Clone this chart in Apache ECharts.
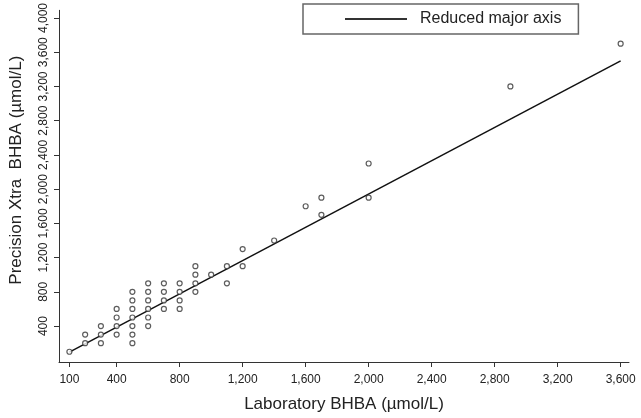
<!doctype html>
<html>
<head>
<meta charset="UTF-8">
<title>BHBA</title>
<script src="https://cdn.jsdelivr.net/npm/echarts@6/dist/echarts.min.js"></script>
<style>body{margin:0;background:#fff}</style>
</head>
<body>
<div id="main" style="width:641px;height:418px;"></div>
<script>
    // laboratory vs meter readings (umol/L)
    var labVals = [100, 200, 200, 300, 300, 300,
        400, 400, 400, 400,
        500, 500, 500, 500, 500, 500, 500,
        600, 600, 600, 600, 600, 600,
        700, 700, 700, 700,
        800, 800, 800, 800,
        900, 900, 900, 900,
        1000, 1100, 1100, 1200, 1200,
        1400, 1600, 1700, 1700, 2000, 2000, 2900, 3600];
    var meterVals = [100, 300, 200, 400, 300, 200,
        600, 500, 400, 300,
        800, 700, 600, 500, 400, 300, 200,
        900, 800, 700, 600, 500, 400,
        900, 800, 700, 600,
        900, 800, 700, 600,
        1100, 1000, 900, 800,
        1000, 1100, 900, 1300, 1100,
        1400, 1800, 1900, 1700, 2300, 1900, 3200, 3700];
    var rmaX = [100, 3600];
    var rmaY = [95, 3500];
    var xTicks = [100, 400, 800, 1200, 1600, 2000, 2400, 2800, 3200, 3600];
    var yTicks = [400, 800, 1200, 1600, 2000, 2400, 2800, 3200, 3600, 4000];

    var pts = labVals.map((x, i) => [x, meterVals[i]]);
    var linePts = rmaX.map((x, i) => [x, rmaY[i]]);
    var fmt = v => v.toLocaleString('en-US');
    var ink = '#222';
    var font = 'Liberation Sans, Arial, sans-serif';

    var myChart = echarts.init(document.getElementById('main'));
    myChart.setOption({
        animation: false,
        textStyle: {fontFamily: font},
        grid: {left: 56, right: 12, top: 10, bottom: 56},
        legend: {
            data: ['Reduced major axis'],
            left: 303, top: 4,
            padding: [7, 17, 7, 42],
            borderColor: '#666', borderWidth: 1.5,
            icon: 'rect', itemWidth: 62, itemHeight: 2,
            itemGap: 0,
            textStyle: {fontSize: 16, color: ink, padding: [0, 0, 0, 8]}
        },
        xAxis: {
            type: 'value', min: 34, max: 3653,
            splitLine: {show: false},
            axisLine: {onZero: false, lineStyle: {color: '#333', width: 1}},
            axisTick: {show: true, length: 5, customValues: xTicks, lineStyle: {color: '#333'}},
            axisLabel: {customValues: xTicks, formatter: fmt, fontSize: 12, color: ink, margin: 12},
            name: 'Laboratory BHBA (µmol/L)',
            nameLocation: 'middle', nameGap: 34,
            nameTextStyle: {fontSize: 17, color: ink}
        },
        yAxis: {
            type: 'value', min: -20, max: 4090,
            splitLine: {show: false},
            axisLine: {show: true, onZero: false, lineStyle: {color: '#333', width: 1}},
            axisTick: {show: true, length: 5, customValues: yTicks, lineStyle: {color: '#333'}},
            axisLabel: {customValues: yTicks, formatter: fmt, fontSize: 12, color: ink, rotate: 90, margin: 9},
            name: 'Precision Xtra  BHBA (µmol/L)',
            nameLocation: 'middle', nameGap: 34, nameRotate: 90,
            nameTextStyle: {fontSize: 17, color: ink, padding: [0, 0, 0, 32]}
        },
        series: [
            {
                name: 'points', type: 'scatter', data: pts,
                symbol: 'circle', symbolSize: 5,
                itemStyle: {color: '#fff', borderColor: '#333', borderWidth: 1.2},
                z: 3
            },
            {
                name: 'Reduced major axis', type: 'line', data: linePts,
                showSymbol: false, symbol: 'none',
                lineStyle: {color: '#111', width: 1.5},
                itemStyle: {color: '#333'}
            }
        ]
    });
</script>
</body>
</html>
